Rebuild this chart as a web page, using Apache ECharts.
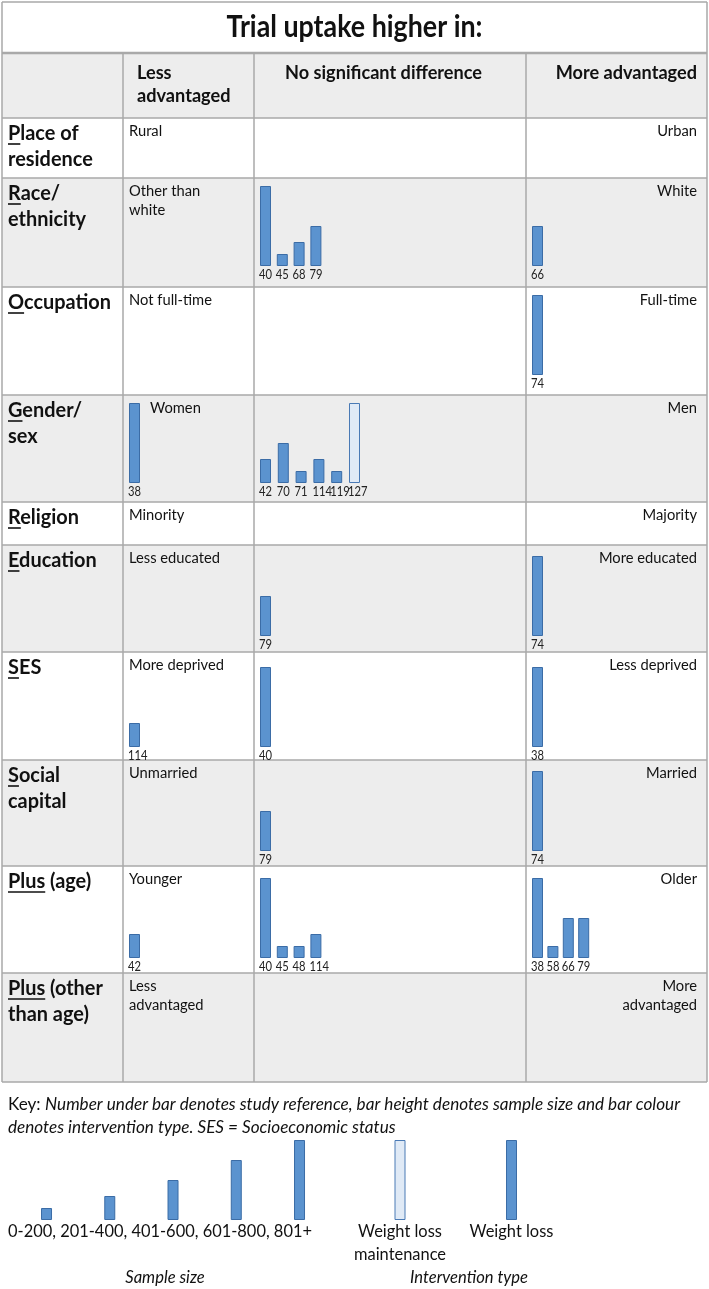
<!DOCTYPE html>
<html><head><meta charset="utf-8">
<script src="https://cdn.jsdelivr.net/npm/echarts@6/dist/echarts.min.js"></script>
<style>html,body{margin:0;padding:0;background:#fff}#c{width:709px;height:1289px}</style>
</head><body><div id="c"></div>
<script>
// ---------------- DATA ----------------
const titleText = 'Trial uptake higher in:';
const columnHeaders = ['Less\nadvantaged', 'No significant difference', 'More advantaged'];
const rowLabels = [['Place of', 'residence'], ['Race/', 'ethnicity'], ['Occupation'], ['Gender/', 'sex'], ['Religion'], ['Education'], ['SES'], ['Social', 'capital'], ['Plus (age)'], ['Plus (other', 'than age)']];
const underlinedParts = ['P', 'R', 'O', 'G', 'R', 'E', 'S', 'S', 'Plus', 'Plus'];
const lessLabels = ['Rural', 'Other than\nwhite', 'Not full-time', 'Women', 'Minority', 'Less educated', 'More deprived', 'Unmarried', 'Younger', 'Less\nadvantaged'];
const moreLabels = ['Urban', 'White', 'Full-time', 'Men', 'Majority', 'More educated', 'Less deprived', 'Married', 'Older', 'More\nadvantaged'];

// bar height = relative sample size (100 = 801+), refs = study reference, type WL / WLM
const raceNsdRefs = ['40', '45', '68', '79'];        const raceNsdHeights = [100, 15, 30, 50];
const raceMoreRefs = ['66'];                          const raceMoreHeights = [50];
const occMoreRefs = ['74'];                           const occMoreHeights = [100];
const genderLessRefs = ['38'];                        const genderLessHeights = [100];
const genderNsdRefs = ['42', '70', '71', '114', '119', '127']; const genderNsdHeights = [30, 50, 15, 30, 15, 100];
const genderNsdTypes = ['WL', 'WL', 'WL', 'WL', 'WL', 'WLM'];
const eduNsdRefs = ['79'];                            const eduNsdHeights = [50];
const eduMoreRefs = ['74'];                           const eduMoreHeights = [100];
const sesLessRefs = ['114'];                          const sesLessHeights = [30];
const sesNsdRefs = ['40'];                            const sesNsdHeights = [100];
const sesMoreRefs = ['38'];                           const sesMoreHeights = [100];
const socialNsdRefs = ['79'];                         const socialNsdHeights = [50];
const socialMoreRefs = ['74'];                        const socialMoreHeights = [100];
const ageLessRefs = ['42'];                           const ageLessHeights = [30];
const ageNsdRefs = ['40', '45', '48', '114'];         const ageNsdHeights = [100, 15, 15, 30];
const ageMoreRefs = ['38', '58', '66', '79'];         const ageMoreHeights = [100, 15, 50, 50];

const keyLead = 'Key: ';
const keyText = ['Number under bar denotes study reference, bar height denotes sample size and bar colour', 'denotes intervention type. SES = Socioeconomic status'];
const sampleSizeBands = ['0-200', '201-400', '401-600', '601-800', '801+'];
const sampleSizeHeights = [15, 30, 50, 75, 100];
const interventionTypes = ['Weight loss maintenance', 'Weight loss'];
const interventionCodes = ['WLM', 'WL'];
const interventionHeights = [100, 100];
const legendTitles = ['Sample size', 'Intervention type'];

// cells (row index, column index 0=less,1=nsd,2=more)
const cells = [
  {row: 1, col: 1, refs: raceNsdRefs, h: raceNsdHeights},
  {row: 1, col: 2, refs: raceMoreRefs, h: raceMoreHeights},
  {row: 2, col: 2, refs: occMoreRefs, h: occMoreHeights},
  {row: 3, col: 0, refs: genderLessRefs, h: genderLessHeights},
  {row: 3, col: 1, refs: genderNsdRefs, h: genderNsdHeights, t: genderNsdTypes},
  {row: 5, col: 1, refs: eduNsdRefs, h: eduNsdHeights},
  {row: 5, col: 2, refs: eduMoreRefs, h: eduMoreHeights},
  {row: 6, col: 0, refs: sesLessRefs, h: sesLessHeights},
  {row: 6, col: 1, refs: sesNsdRefs, h: sesNsdHeights},
  {row: 6, col: 2, refs: sesMoreRefs, h: sesMoreHeights},
  {row: 7, col: 1, refs: socialNsdRefs, h: socialNsdHeights},
  {row: 7, col: 2, refs: socialMoreRefs, h: socialMoreHeights},
  {row: 8, col: 0, refs: ageLessRefs, h: ageLessHeights},
  {row: 8, col: 1, refs: ageNsdRefs, h: ageNsdHeights},
  {row: 8, col: 2, refs: ageMoreRefs, h: ageMoreHeights}
];

// ---------------- LAYOUT / STYLE ----------------
const FAM = 'Lato, "Noto Sans", sans-serif';
const ctx = document.createElement('canvas').getContext('2d');
function tw(text, size, weight, style, fam) {
  ctx.font = (style || 'normal') + ' ' + (weight || 'normal') + ' ' + size + 'px ' + (fam || FAM);
  return ctx.measureText(text).width;
}

const colX = [2, 123, 254, 526, 707];
const titleTop = 2, titleBottom = 53, headerBottom = 118;
const rowTops = [118, 178, 287, 395, 502, 545, 652, 760, 866, 973];
const tableBottom = 1082;
const rowBottom = i => (i + 1 < rowTops.length ? rowTops[i + 1] : tableBottom);
const barBottomGap = [16, 21, 20, 19, 16, 16, 13, 15, 15, 16];
const bandFor = (row, col) => (row === 3 && col === 1 ? 17.8 : row === 8 && col === 2 ? 15.4 : 16.8);
const BARW = 11, BARH = 80;
const GREY = '#ededed', LINE = '#a9a9a9', INK = '#111';
const DARK = {color: '#5b93cf', borderColor: '#3b6ca6', borderWidth: 1};
const LIGHT = {color: '#e0eaf6', borderColor: '#4a7ab5', borderWidth: 1};

// font sizes and horizontal condensing (reference font is narrow)
const S = {
  title: {size: 30, weight: 'bold'},
  header: {size: 18.5, weight: 'bold'},
  row: {size: 21, weight: 'bold'},
  cell: {size: 15.5, weight: 'normal'},
  key: {size: 17, weight: 'normal'},
  leg: {size: 17, weight: 'normal'},
  legI: {size: 17, weight: 'normal', style: 'italic'},
  num: {size: 13, weight: 'normal'}
};
S.title.sx = 256 / tw(titleText, S.title.size, 'bold');
S.header.sx = 197 / tw('No significant difference', S.header.size, 'bold');
S.row.sx = 103 / tw('Occupation', S.row.size, 'bold');
S.cell.sx = 83 / tw('Not full-time', S.cell.size);
S.key.sx = 672 / (tw(keyLead, S.key.size) + tw(keyText[0], S.key.size, 'normal', 'italic'));
S.leg.sx = 304 / tw(sampleSizeBands.join(', '), S.leg.size);
S.legI.sx = 118 / tw(legendTitles[1], S.legI.size, 'normal', 'italic');
S.num.sx = 13 / tw('40', S.num.size);

function T(text, x, y, st, opts) {
  opts = opts || {};
  const lh = opts.lh || Math.round(st.size * 1.25);
  return {
    type: 'text', x: x, y: opts.top ? y : y - lh / 2, scaleX: st.sx, z: 100, silent: true,
    style: {
      text: text, x: 0, y: 0, fontSize: st.size, fontFamily: FAM, fontWeight: st.weight || 'normal',
      fontStyle: st.style || 'normal', fill: opts.fill || INK, align: opts.align || 'left', textAlign: opts.align || 'left',
      verticalAlign: 'top', textVerticalAlign: 'top', lineHeight: lh, rich: opts.rich
    }
  };
}
function R(x, y, w, h, fill) { return {type: 'rect', z: 0, silent: true, shape: {x: x, y: y, width: w, height: h}, style: {fill: fill}}; }
function L(x1, y1, x2, y2, w, c) { return {type: 'line', z: 50, silent: true, shape: {x1: x1, y1: y1, x2: x2, y2: y2}, style: {stroke: c || LINE, lineWidth: w || 1.5}}; }

// ---------------- CHART ----------------
const chart = echarts.init(document.getElementById('c'), null, {renderer: 'canvas'});
const grid = [], xAxis = [], yAxis = [], series = [];
function addBars(left, bottom, band, refs, heights, types) {
  const k = grid.length;
  grid.push({left: left, top: bottom - BARH, width: refs.length * band, height: BARH});
  xAxis.push({type: 'category', gridIndex: k, data: refs, show: false});
  yAxis.push({type: 'value', gridIndex: k, min: 0, max: 100, show: false});
  series.push({
    type: 'bar', xAxisIndex: k, yAxisIndex: k, barWidth: BARW, silent: true, animation: false,
    data: heights.map((v, j) => ({value: v, itemStyle: (types && types[j] === 'WLM') ? LIGHT : DARK}))
  });
  return k;
}
const cellIdx = cells.map(c => {
  const band = bandFor(c.row, c.col);
  return addBars(colX[c.col + 1] + 6 - (band - BARW) / 2, rowBottom(c.row) - barBottomGap[c.row], band, c.refs, c.h, c.t);
});
const legendBottom = 1220;
const ssIdx = addBars(14.9, legendBottom, 63.25, sampleSizeBands, sampleSizeHeights, null);
const itIdx = addBars(344.25, legendBottom, 111.5, interventionTypes, interventionHeights, interventionCodes);

chart.setOption({animation: false, grid: grid, xAxis: xAxis, yAxis: yAxis, series: series});

// ---------------- TABLE GRAPHICS ----------------
const g = [];
g.push(R(colX[0], titleTop, colX[4] - colX[0], titleBottom - titleTop, '#fff'));
g.push(R(colX[0], titleBottom, colX[4] - colX[0], headerBottom - titleBottom, GREY));
rowTops.forEach((t, i) => g.push(R(colX[0], t, colX[4] - colX[0], rowBottom(i) - t, i % 2 ? GREY : '#fff')));
// borders
g.push(L(colX[0], titleTop, colX[4], titleTop));
g.push(L(colX[0], titleBottom, colX[4], titleBottom, 2.5));
g.push(L(colX[0], titleTop, colX[0], tableBottom));
g.push(L(colX[4], titleTop, colX[4], tableBottom));
for (let c = 1; c < 4; c++) g.push(L(colX[c], titleBottom, colX[c], tableBottom));
[headerBottom].concat(rowTops.slice(1), [tableBottom]).forEach(y => g.push(L(colX[0], y, colX[4], y)));

// title and headers
g.push(T(titleText, (colX[0] + colX[4]) / 2, 27, S.title, {align: 'center'}));
g.push(T(columnHeaders[0], colX[1] + 14, 73, S.header, {lh: 23}));
g.push(T(columnHeaders[1], colX[2] + 31, 73, S.header));
g.push(T(columnHeaders[2], colX[4] - 10, 73, S.header, {align: 'right'}));

// rows
rowLabels.forEach((lines, i) => {
  const t = rowTops[i];
  const y = t + 15;
  g.push(T(lines.join('\n'), 8, y, S.row, {lh: 26}));
  const uw = tw(underlinedParts[i], S.row.size, 'bold') * S.row.sx;
  g.push(L(8, y + 11, 8 + uw, y + 11, 1.6, INK));
  const lx = (i === 3) ? colX[1] + 27 : colX[1] + 6;
  g.push(T(lessLabels[i], lx, t + 13, S.cell, {lh: 19}));
  g.push(T(moreLabels[i], colX[4] - 10, t + 13, S.cell, {lh: 19, align: 'right'}));
});

// study reference numbers under bars, placed through each cell's axes
cells.forEach((c, n) => {
  const k = cellIdx[n];
  c.refs.forEach((ref, j) => {
    const p = chart.convertToPixel({xAxisIndex: k, yAxisIndex: k}, [j, 0]);
    g.push(T(ref, p[0] - BARW / 2 - 1, p[1] + 1.5, S.num, {top: true, lh: 14, fill: '#222'}));
  });
});

// key
g.push(T('{a|' + keyLead + '}{b|' + keyText[0] + '}\n{b|' + keyText[1] + '}', 8, 1105, S.key, {
  lh: 23, rich: {a: {fontStyle: 'normal', fontSize: S.key.size, fontFamily: FAM, lineHeight: 23},
                 b: {fontStyle: 'italic', fontSize: S.key.size, fontFamily: FAM, lineHeight: 23}}
}));
// legend labels
g.push(T(sampleSizeBands.join(', '), 8, 1232, S.leg));
interventionTypes.forEach((name, j) => {
  const px = chart.convertToPixel({xAxisIndex: itIdx}, j);
  const txt = name === 'Weight loss maintenance' ? 'Weight loss\nmaintenance' : name;
  g.push(T(txt, px, 1232, S.leg, {lh: 23, align: 'center'}));
});
g.push(T(legendTitles[0], 165, 1278, S.legI, {align: 'center'}));
g.push(T(legendTitles[1], 469, 1278, S.legI, {align: 'center'}));

chart.setOption({graphic: {elements: g}});
</script>
</body></html>
